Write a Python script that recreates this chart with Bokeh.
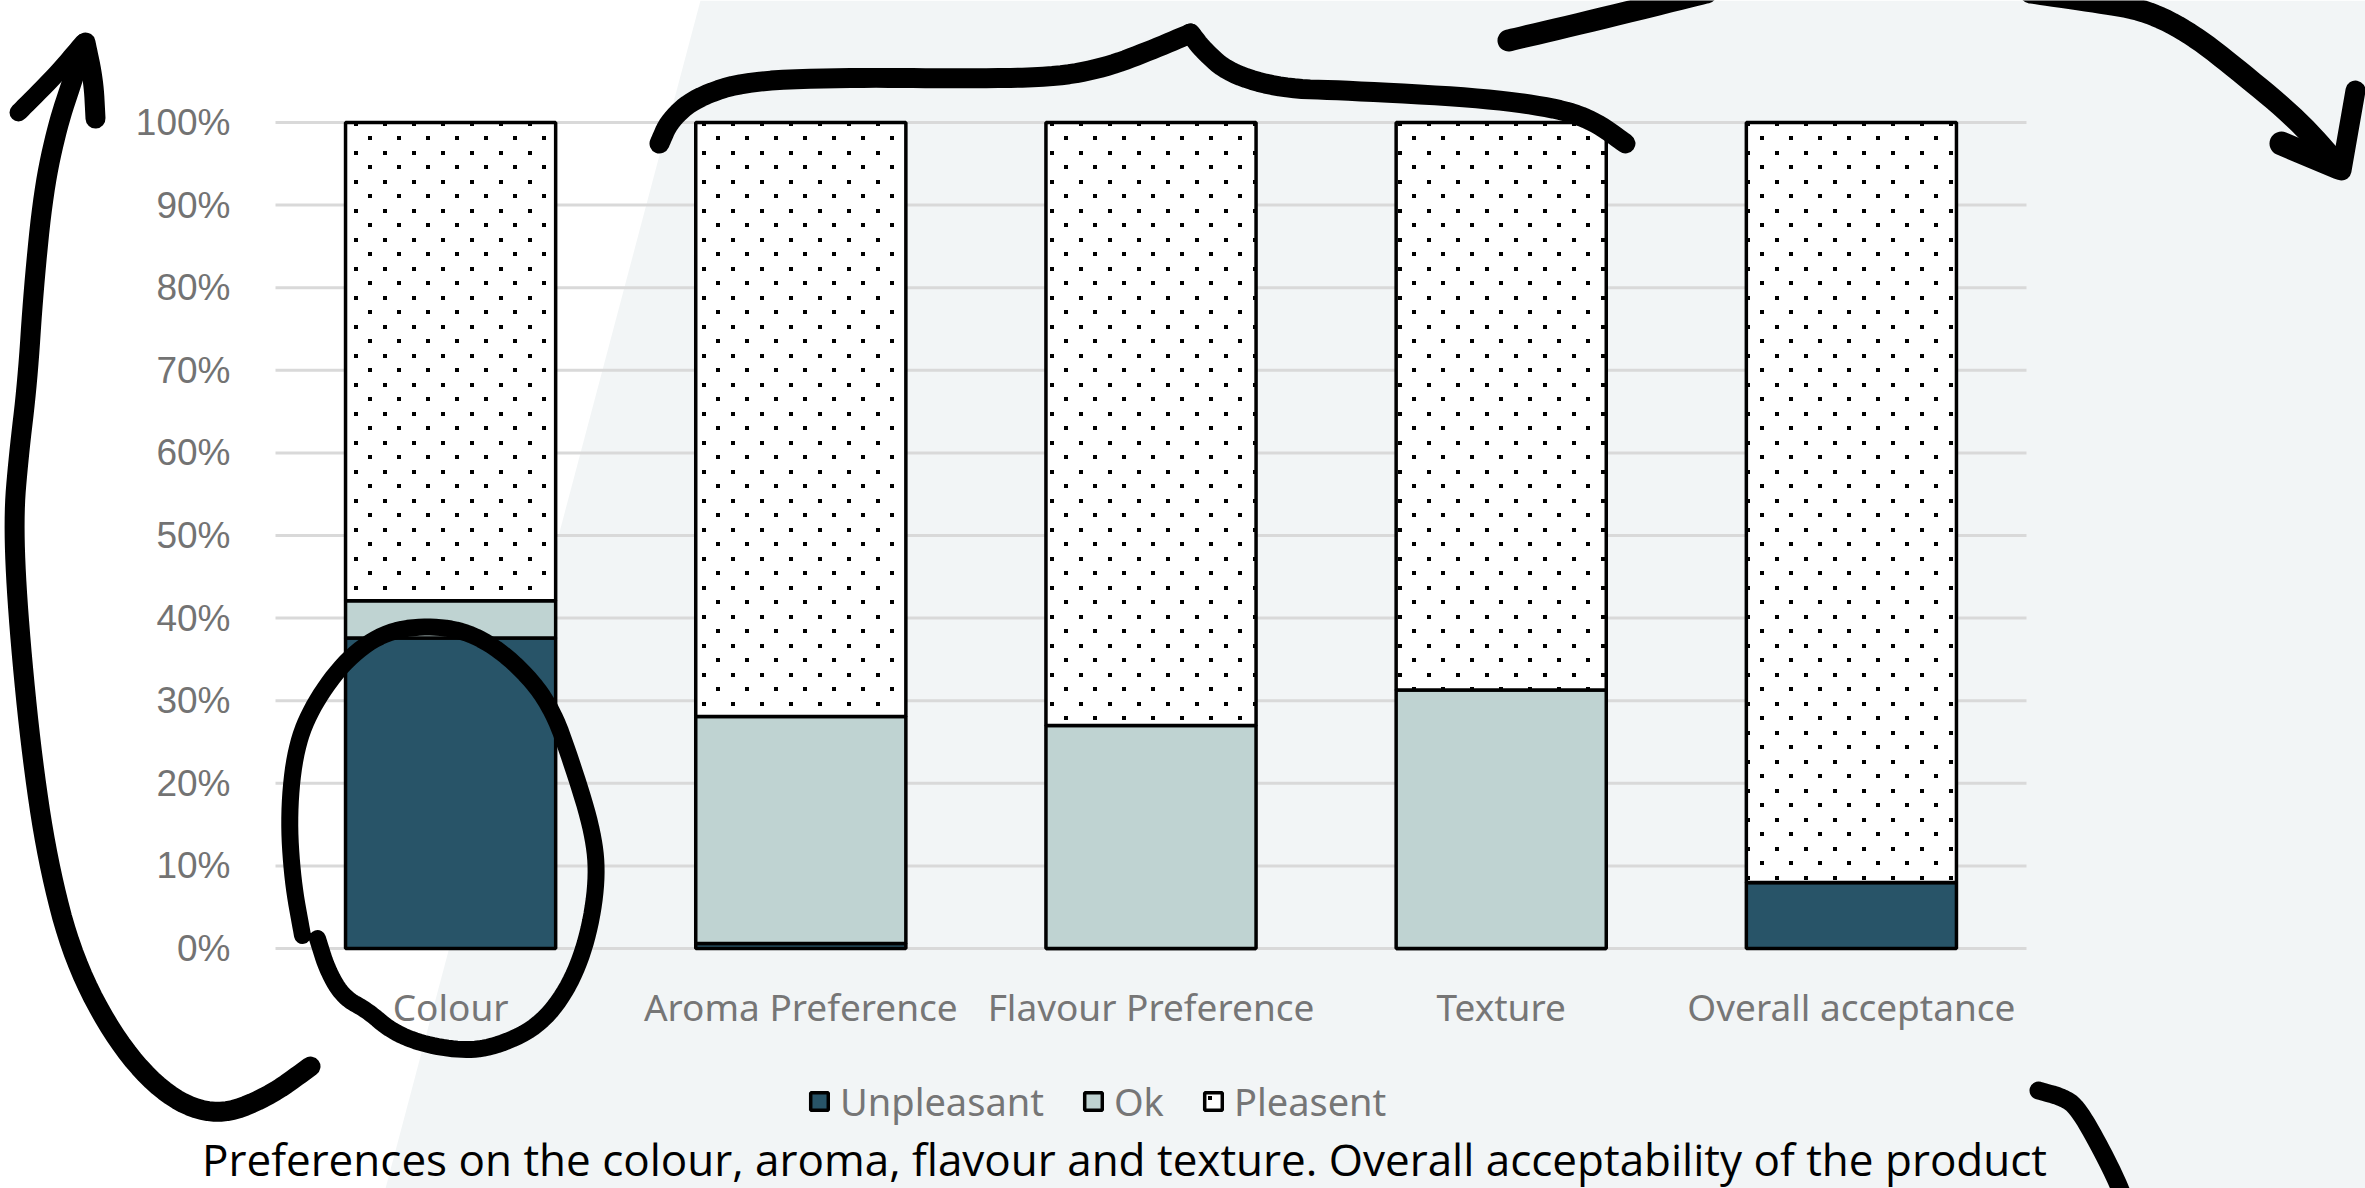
import zlib, struct, base64
from bokeh.plotting import figure
from bokeh.models import Range1d, ColumnDataSource, ImageURLTexture
from bokeh.core.properties import value
from bokeh.embed import file_html
from bokeh.resources import INLINE

# ---------------- data ----------------
categories = ["Colour", "Aroma Preference", "Flavour Preference", "Texture", "Overall acceptance"]
series = ["Unpleasant", "Ok", "Pleasent"]
unpleasant = [37.6, 0.6, 0.0, 0.0, 8.0]
ok = [4.5, 27.5, 27.0, 31.3, 0.0]
pleasent = [57.9, 71.9, 73.0, 68.7, 92.0]
y_ticks = [0, 10, 20, 30, 40, 50, 60, 70, 80, 90, 100]
y_tick_labels = ["0%", "10%", "20%", "30%", "40%", "50%", "60%", "70%", "80%", "90%", "100%"]
caption = "Preferences on the colour, aroma, flavour and texture. Overall acceptability of the product"

# ---------------- layout ----------------
W, H = 2365, 1188
PLOT_L, PLOT_R, PLOT_T, PLOT_B = 275, 2026, 122, 948
n = len(categories)
px_per_cat = (PLOT_R - PLOT_L) / n
px_per_pct = (PLOT_B - PLOT_T) / 100.0

p = figure(width=W, height=H, output_backend="svg", toolbar_location=None, title=None,
           x_range=Range1d(-PLOT_L / px_per_cat, n + (W - PLOT_R) / px_per_cat),
           y_range=Range1d(-(H - PLOT_B) / px_per_pct, 100 + PLOT_T / px_per_pct),
           x_axis_type=None, y_axis_type=None, min_border=0)
p.outline_line_color = None
p.background_fill_color = "white"
p.border_fill_color = "white"
p.extra_x_ranges = {"px": Range1d(0, W)}
p.extra_y_ranges = {"px": Range1d(H, 0)}

# background shape
p.patch([700, W, W, 385], [0, 0, H, H], fill_color="#F2F5F6", line_color=None,
        x_range_name="px", y_range_name="px")

# gridlines
p.segment(x0=0, x1=n, y0=y_ticks, y1=y_ticks, line_color="#D9D9D9", line_width=3)

# y tick labels
p.text(x=[230] * len(y_ticks), y=y_ticks, text=y_tick_labels, x_range_name="px",
       text_align="right", text_baseline="middle", text_font=value("Liberation Sans"),
       text_font_size="37px", text_color="#737373")


# sparse staggered dot texture (tiny PNG tile as data URL)
def dot_tile(size=29, dot=4):
    c1 = size // 4 - 1
    c2 = c1 + size // 2
    rows = []
    for yy in range(size):
        row = bytearray(b"\x00")
        for xx in range(size):
            on = (c1 <= xx < c1 + dot and c1 <= yy < c1 + dot) or (c2 <= xx < c2 + dot and c2 <= yy < c2 + dot)
            row += bytes((0, 0, 0, 255)) if on else bytes((0, 0, 0, 0))
        rows.append(bytes(row))
    raw = b"".join(rows)

    def chunk(t, d):
        return struct.pack(">I", len(d)) + t + d + struct.pack(">I", zlib.crc32(t + d) & 0xFFFFFFFF)

    png = (b"\x89PNG\r\n\x1a\n" + chunk(b"IHDR", struct.pack(">IIBBBBB", size, size, 8, 6, 0, 0, 0))
           + chunk(b"IDAT", zlib.compress(raw)) + chunk(b"IEND", b""))
    return "data:image/png;base64," + base64.b64encode(png).decode()


tex = ImageURLTexture(url=dot_tile())

# bars
src = ColumnDataSource(dict(x=[i + 0.5 for i in range(n)],
                            Unpleasant=unpleasant, Ok=ok, Pleasent=pleasent))
p.vbar_stack(series, x="x", width=0.6, source=src,
             fill_color=["#285468", "#BFD3D2", "white"], line_color="black", line_width=3.5,
             hatch_pattern=[None, None, value("sparse_dots")], hatch_extra={"sparse_dots": tex},
             hatch_color="black", hatch_scale=29, hatch_weight=1,
             legend_label=series)

leg = p.legend[0]
leg.location = (808, 61)
leg.orientation = "horizontal"
leg.padding = 0
leg.margin = 0
leg.spacing = 38
leg.label_standoff = 10
leg.glyph_width = 22
leg.glyph_height = 22
leg.label_text_font = "Noto Sans"
leg.label_text_font_size = "38px"
leg.label_text_color = "#767676"
leg.border_line_color = None
leg.background_fill_alpha = 0

# category labels
p.text(x=[i + 0.5 for i in range(n)], y=[1006] * n, text=categories, y_range_name="px",
       text_align="center", text_baseline="middle", text_font=value("Noto Sans"),
       text_font_size="37px", text_color="#767676")

# caption
p.text(x=[1124], y=[1158], text=[caption], x_range_name="px", y_range_name="px",
       text_align="center", text_baseline="middle", text_font=value("Open Sans"),
       text_font_size="44px", text_color="black")


# hand-drawn decorations (pixel coordinates), smoothed for a pen-like look
def chaikin(pts, rounds=3):
    for _ in range(rounds):
        out = [pts[0]]
        for (x0, y0), (x1, y1) in zip(pts[:-1], pts[1:]):
            out.append((0.75 * x0 + 0.25 * x1, 0.75 * y0 + 0.25 * y1))
            out.append((0.25 * x0 + 0.75 * x1, 0.25 * y0 + 0.75 * y1))
        out.append(pts[-1])
        pts = out
    return pts


strokes = [
    (20, [(310, 1066), (267, 1097), (217, 1116), (167, 1097), (117, 1043), (73, 960), (47, 861),
          (30, 746), (17, 609), (13, 518), (18, 457), (27, 381), (33, 289), (43, 190), (57, 125),
          (72, 80), (83, 45)]),
    (18, [(18, 112), (55, 75), (83, 42)]),
    (20, [(85, 42), (93, 80), (95, 118)]),
    (17, [(302, 935), (292, 880), (288, 813), (295, 747), (313, 703), (347, 657), (387, 630),
          (433, 625), (473, 633), (513, 660), (550, 703), (573, 767), (593, 833), (597, 880),
          (587, 940), (567, 990), (537, 1027), (493, 1047), (460, 1050), (420, 1043), (390, 1030),
          (367, 1010), (343, 997), (327, 970), (317, 938)]),
    (20, [(659, 143), (669, 120), (695, 97), (747, 80), (858, 77), (955, 78), (1053, 77),
          (1105, 67), (1150, 50), (1190, 33)]),
    (20, [(1190, 33), (1203, 50), (1229, 73), (1281, 88), (1346, 90),
          (1476, 97), (1554, 107), (1593, 120), (1625, 143)]),
    (22, [(1508, 40), (1593, 20), (1706, -8)]),
    (22, [(2030, -8), (2100, 2), (2146, 10), (2191, 33), (2242, 73), (2298, 120), (2338, 165)]),
    (24, [(2281, 143), (2338, 167)]),
    (20, [(2355, 90), (2341, 170)]),
    (18, [(2038, 1090), (2063, 1097), (2077, 1107), (2100, 1147), (2120, 1188), (2125, 1205)]),
]
for w, pts in strokes:
    sm = chaikin(pts) if len(pts) > 2 else pts
    p.line([a for a, b in sm], [b for a, b in sm], line_width=w, line_color="black",
           line_cap="round", line_join="round", x_range_name="px", y_range_name="px")

open("out.html", "w").write(file_html(p, INLINE))
